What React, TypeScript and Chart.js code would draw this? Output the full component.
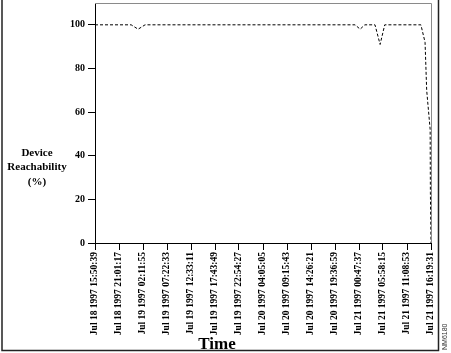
import React, { useEffect, useRef } from "react";
import { Chart, registerables } from "chart.js";

Chart.register(...registerables);

// Tick labels along the time axis (every 5h10m38s)
const tickLabels: string[] = [
  "Jul 18 1997 15:50:39",
  "Jul 18 1997 21:01:17",
  "Jul 19 1997 02:11:55",
  "Jul 19 1997 07:22:33",
  "Jul 19 1997 12:33:11",
  "Jul 19 1997 17:43:49",
  "Jul 19 1997 22:54:27",
  "Jul 20 1997 04:05:05",
  "Jul 20 1997 09:15:43",
  "Jul 20 1997 14:26:21",
  "Jul 20 1997 19:36:59",
  "Jul 21 1997 00:47:37",
  "Jul 21 1997 05:58:15",
  "Jul 21 1997 11:08:53",
  "Jul 21 1997 16:19:31",
];
const tickStepHours = 18638 / 3600; // 5h10m38s
const tickHours: number[] = tickLabels.map((_, i) => i * tickStepHours);

// Elapsed hours since Jul 18 1997 15:50:39
const timeHours: number[] = [0, 7.8, 9.3, 10.8, 56.1, 57.2, 58.2, 60.4, 61.5, 62.5, 70.3, 71.2, 71.55, 72.3, 72.35, 72.48];
// Device reachability (%)
const reachability: number[] = [100, 100, 98, 100, 100, 98, 100, 100, 91, 100, 100, 92, 70, 52, 23, 0];

const yTickValues: number[] = [0, 20, 40, 60, 80, 100];

const decorPlugin = {
  id: "decor",
  beforeDraw(chart: any) {
    const ctx = chart.ctx;
    ctx.save();
    ctx.fillStyle = "#ffffff";
    ctx.fillRect(0, 0, chart.width, chart.height);
    ctx.restore();
  },
  afterDraw(chart: any) {
    const ctx = chart.ctx;
    const a = chart.chartArea;
    ctx.save();
    // plot box (top & right edges)
    ctx.strokeStyle = "#8a8a8a";
    ctx.lineWidth = 1;
    ctx.beginPath();
    ctx.moveTo(a.left, a.top + 0.5);
    ctx.lineTo(a.right + 0.5, a.top + 0.5);
    ctx.lineTo(a.right + 0.5, a.bottom);
    ctx.stroke();
    // outer frame
    ctx.strokeStyle = "#222222";
    ctx.lineWidth = 1.5;
    ctx.beginPath();
    ctx.moveTo(2, 0);
    ctx.lineTo(2, 350.5);
    ctx.lineTo(438.5, 350.5);
    ctx.lineTo(438.5, 0);
    ctx.stroke();
    // y axis title
    ctx.fillStyle = "#000";
    ctx.font = "bold 11px 'Liberation Serif', 'Times New Roman', serif";
    ctx.textAlign = "center";
    ctx.textBaseline = "middle";
    ctx.fillText("Device", 37, 153);
    ctx.fillText("Reachability", 37, 167);
    ctx.fillText("(%)", 37, 182);
    // x axis title
    ctx.font = "bold 17px 'Liberation Serif', 'Times New Roman', serif";
    ctx.textBaseline = "alphabetic";
    ctx.fillText("Time", 217, 349);
    // side code
    ctx.translate(447, 350);
    ctx.rotate(-Math.PI / 2);
    ctx.font = "7px 'Liberation Sans', Arial, sans-serif";
    ctx.textAlign = "left";
    ctx.textBaseline = "alphabetic";
    ctx.fillStyle = "#333";
    ctx.fillText("NM6180", 0, 0);
    ctx.restore();
  },
};

export default function App() {
  const canvasRef = useRef<HTMLCanvasElement | null>(null);

  useEffect(() => {
    if (!canvasRef.current) return;
    const points = timeHours.map((x, i) => ({ x, y: reachability[i] }));
    const chart = new Chart(canvasRef.current, {
      type: "line",
      data: {
        datasets: [
          {
            data: points,
            borderColor: "#000",
            borderWidth: 1,
            borderDash: [3, 2],
            pointRadius: 0,
            tension: 0,
            fill: false,
          },
        ],
      },
      options: {
        animation: false,
        responsive: false,
        maintainAspectRatio: false,
        layout: { padding: { left: 0, top: 3, right: 20, bottom: 0 } },
        plugins: { legend: { display: false }, tooltip: { enabled: false } },
        scales: {
          x: {
            type: "linear",
            min: 0,
            max: tickHours[tickHours.length - 1],
            afterBuildTicks: (scale: any) => {
              scale.ticks = tickHours.map((v) => ({ value: v }));
            },
            afterFit: (scale: any) => {
              scale.height = 110;
              scale.paddingLeft = 0;
              scale.paddingRight = 0;
            },
            grid: {
              display: true,
              drawOnChartArea: false,
              drawTicks: true,
              tickLength: 7,
              color: "#000",
            },
            border: { display: true, color: "#000", width: 1 },
            ticks: {
              autoSkip: false,
              minRotation: 90,
              maxRotation: 90,
              padding: 2,
              color: "#000",
              font: { family: "'Liberation Serif', 'Times New Roman', serif", size: 9.5, weight: "bold" },
              callback: (_v: any, i: number) => tickLabels[i],
            },
          },
          y: {
            type: "linear",
            min: 0,
            max: 110,
            afterBuildTicks: (scale: any) => {
              scale.ticks = yTickValues.map((v) => ({ value: v }));
            },
            afterFit: (scale: any) => {
              scale.width = 95;
              scale.paddingTop = 0;
              scale.paddingBottom = 0;
            },
            grid: {
              display: true,
              drawOnChartArea: false,
              drawTicks: true,
              tickLength: 7,
              color: "#000",
            },
            border: { display: true, color: "#000", width: 1 },
            ticks: {
              padding: 3,
              color: "#000",
              font: { family: "'Liberation Serif', 'Times New Roman', serif", size: 10, weight: "bold" },
            },
          },
        },
      },
      plugins: [decorPlugin],
    } as any);
    return () => chart.destroy();
  }, []);

  return (
    <div style={{ position: "fixed", left: 0, top: 0, width: 451, height: 353, background: "#fff" }}>
      <canvas ref={canvasRef} width={451} height={353} style={{ width: 451, height: 353, display: "block" }} />
    </div>
  );
}
